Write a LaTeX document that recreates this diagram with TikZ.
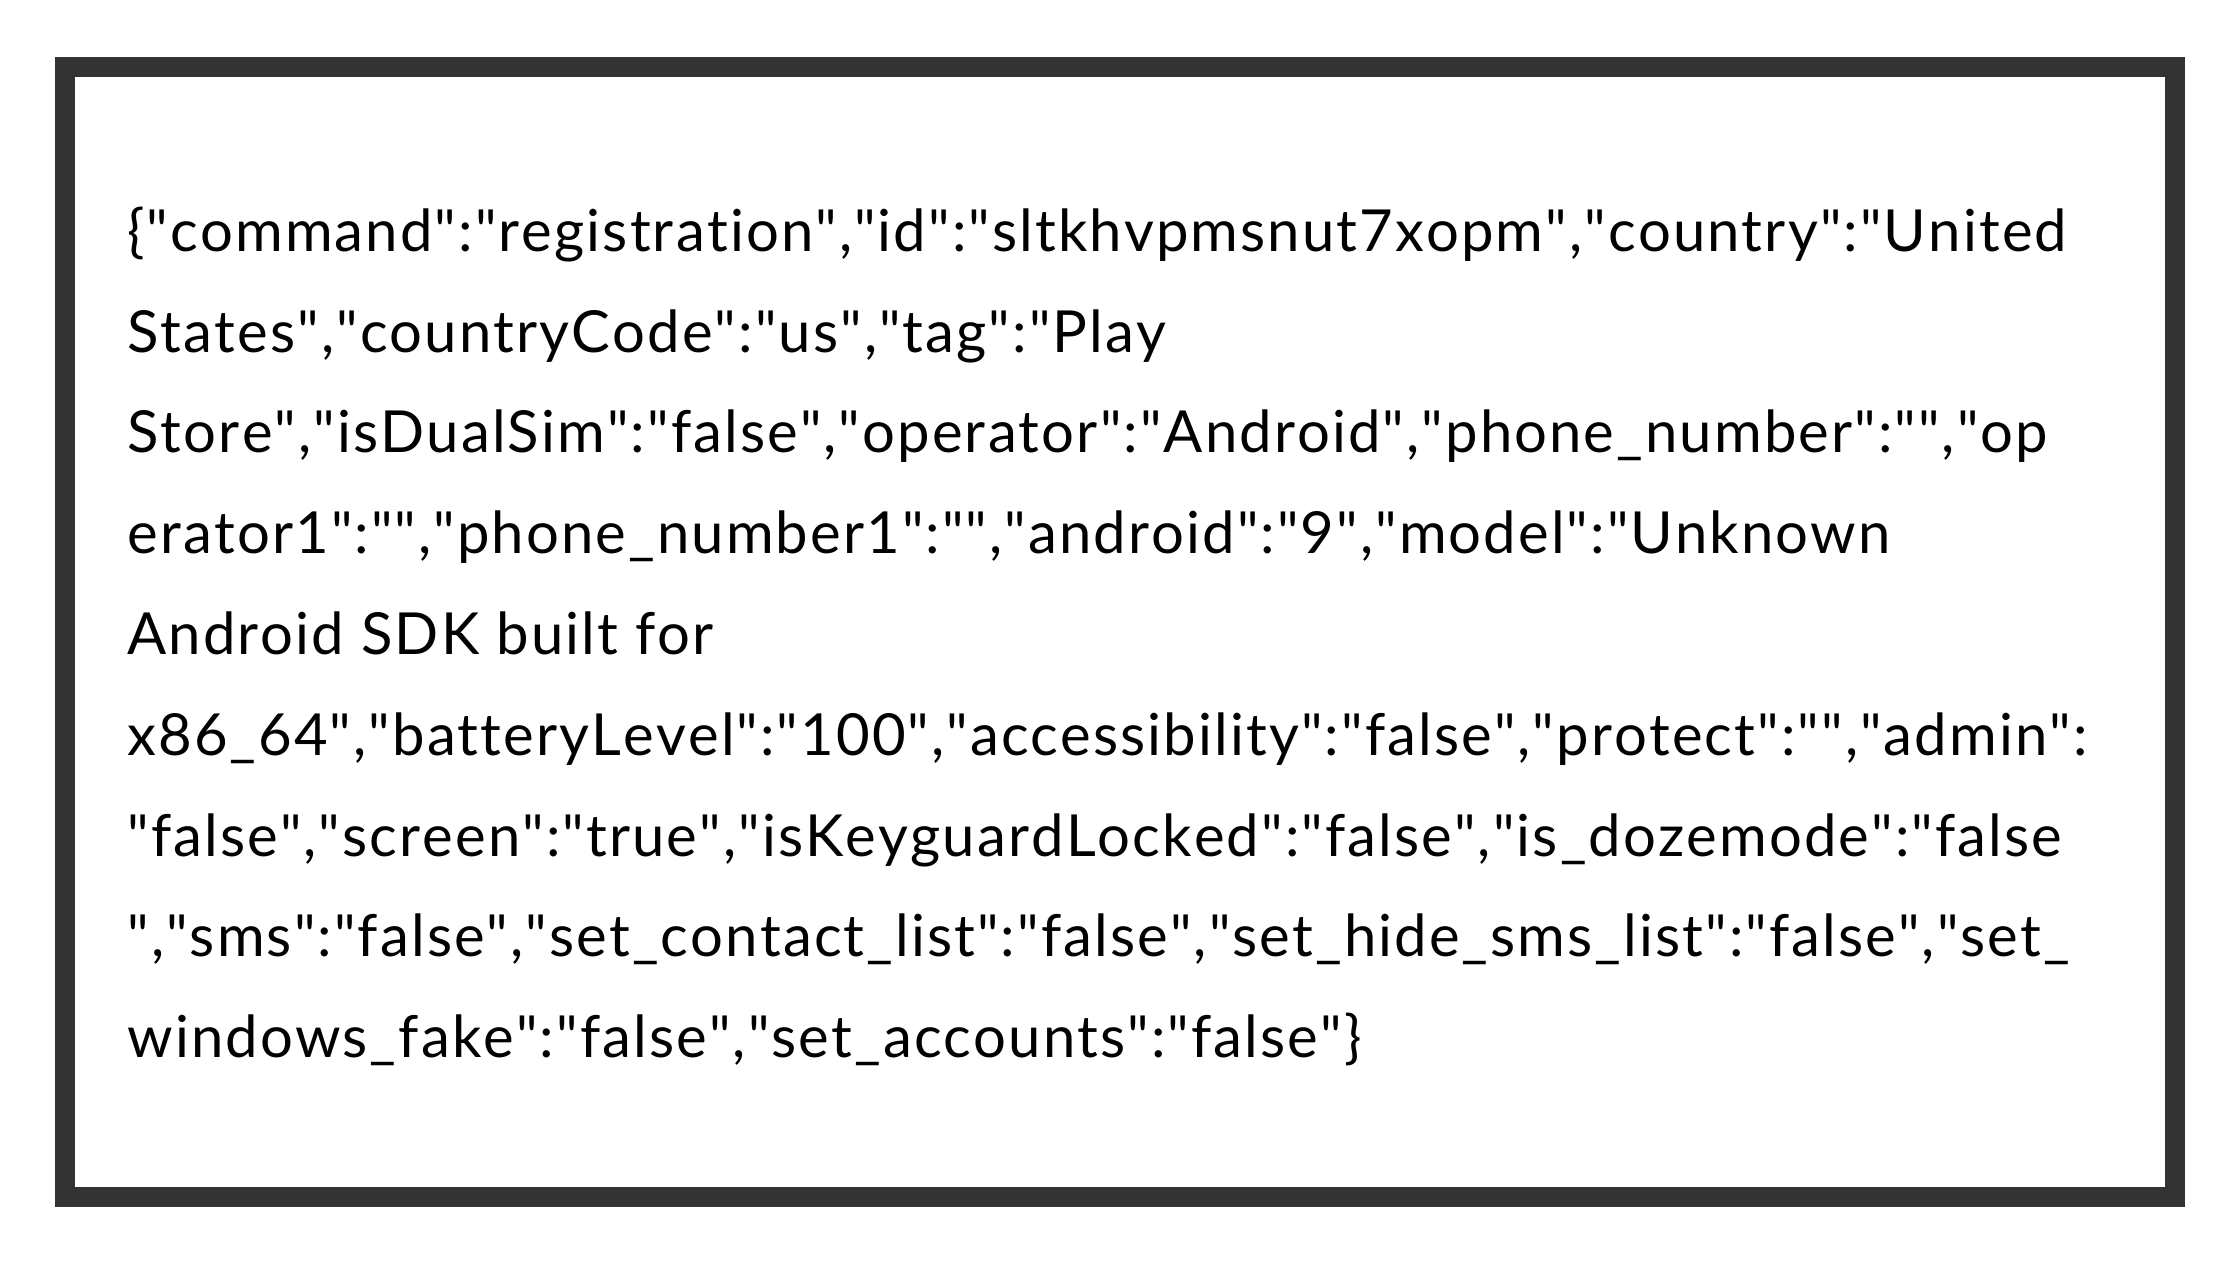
\documentclass[tikz,border=0pt]{standalone}
\usepackage{fontspec}
\newfontfamily\jsonfont{Lato}[Kerning=Off, Ligatures=NoCommon, LetterSpace=3.6]
\usetikzlibrary{positioning}
\definecolor{framegray}{RGB}{51,51,51}

\tikzset{
  jsonline/.style={anchor=north west, inner sep=0pt, text height=34pt, text depth=16pt,
    font=\jsonfont\fontsize{29}{34}\selectfont},
}

\begin{document}
\begin{tikzpicture}[node distance=0pt]
\useasboundingbox (0,0) rectangle (1120pt,630pt);

\draw [framegray, line width=10pt] (32.5pt,31.5pt) rectangle (1087.5pt,596.5pt);

\node [jsonline] (l1) at (63.5pt,538.5pt) {\{"command":"registration","id":"sltkhvpmsnut7xopm","country":"United};
\node [below=of l1.south west, jsonline] (l2) {States","countryCode":"us","tag":"Play};
\node [below=of l2.south west, jsonline] (l3) {Store","isDualSim":"false","operator":"Android","phone\_number":"","op};
\node [below=of l3.south west, jsonline] (l4) {erator1":"","phone\_number1":"","android":"9","model":"Unknown};
\node [below=of l4.south west, jsonline] (l5) {Android SDK built for};
\node [below=of l5.south west, jsonline] (l6) {x86\_64","batteryLevel":"100","accessibility":"false","protect":"","admin":};
\node [below=of l6.south west, jsonline] (l7) {"false","screen":"true","isKeyguardLocked":"false","is\_dozemode":"false};
\node [below=of l7.south west, jsonline] (l8) {","sms":"false","set\_contact\_list":"false","set\_hide\_sms\_list":"false","set\_};
\node [below=of l8.south west, jsonline] (l9) {windows\_fake":"false","set\_accounts":"false"\}};

\end{tikzpicture}
\end{document}
